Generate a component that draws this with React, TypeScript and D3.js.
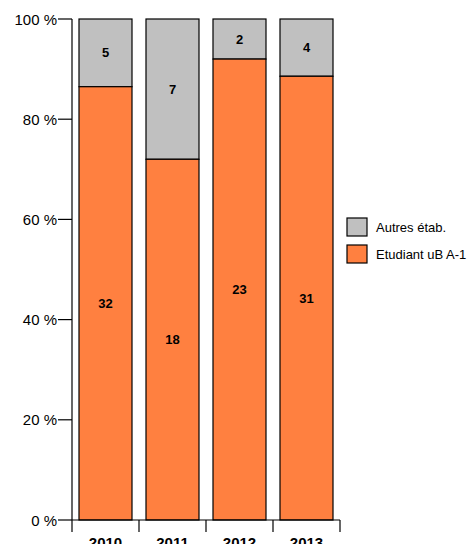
import React from "react";
import * as d3 from "d3";

const years = ["2010", "2011", "2012", "2013"];
const etudiant = [32, 18, 23, 31];
const autres = [5, 7, 2, 4];
const yTicks = [0, 20, 40, 60, 80, 100];
const seriesNames = ["Autres étab.", "Etudiant uB A-1"];
const colors = ["#C0C0C0", "#FF8040"];

export default function App() {
  const W = 469, H = 544;
  const x0 = 72, x1 = 340, yTop = 19, yBot = 520;
  const xb = d3.scaleBand<string>().domain(years).range([x0, x1]);
  const y = d3.scaleLinear().domain([0, 100]).range([yBot, yTop]);
  const font = "Liberation Sans, Arial, sans-serif";
  return (
    <svg width={W} height={H} style={{ position: "absolute", left: 0, top: 0, background: "#fff" }} fontFamily={font}>
      {years.map((yr, i) => {
        const tot = etudiant[i] + autres[i];
        const pE = (etudiant[i] / tot) * 100;
        const bx = xb(yr)! + 7;
        const bw = xb.bandwidth() - 14;
        return (
          <g key={yr}>
            <rect x={bx} y={y(100)} width={bw} height={y(pE) - y(100)} fill={colors[0]} stroke="#000" strokeWidth={1.2} />
            <rect x={bx} y={y(pE)} width={bw} height={y(0) - y(pE)} fill={colors[1]} stroke="#000" strokeWidth={1.2} />
            <text x={bx + bw / 2} y={(y(100) + y(pE)) / 2 + 4.5} textAnchor="middle" fontSize={13} fontWeight="bold">{autres[i]}</text>
            <text x={bx + bw / 2} y={(y(pE) + y(0)) / 2 + 4.5} textAnchor="middle" fontSize={13} fontWeight="bold">{etudiant[i]}</text>
          </g>
        );
      })}
      <line x1={x0} x2={x0} y1={yTop} y2={yBot} stroke="#000" strokeWidth={1.2} />
      {yTicks.map((t) => (
        <g key={t}>
          <line x1={x0 - 14} x2={x0} y1={y(t)} y2={y(t)} stroke="#000" strokeWidth={1.2} />
          <text x={x0 - 15} y={y(t) + 5.5} textAnchor="end" fontSize={15}>{t} %</text>
        </g>
      ))}
      <line x1={x0} x2={x1} y1={yBot} y2={yBot} stroke="#000" strokeWidth={1.2} />
      {[...years.map((yr) => xb(yr)!), x1].map((tx, i) => (
        <line key={i} x1={tx} x2={tx} y1={yBot} y2={yBot + 12} stroke="#000" strokeWidth={1.2} />
      ))}
      {years.map((yr) => (
        <text key={yr} x={xb(yr)! + xb.bandwidth() / 2} y={548} textAnchor="middle" fontSize={15} fontWeight="bold">{yr}</text>
      ))}
      {seriesNames.map((n, i) => (
        <g key={n}>
          <rect x={347} y={218 + i * 27} width={20} height={18} fill={colors[i]} stroke="#000" strokeWidth={1.2} />
          <text x={376} y={232 + i * 27} fontSize={13}>{n}</text>
        </g>
      ))}
    </svg>
  );
}
